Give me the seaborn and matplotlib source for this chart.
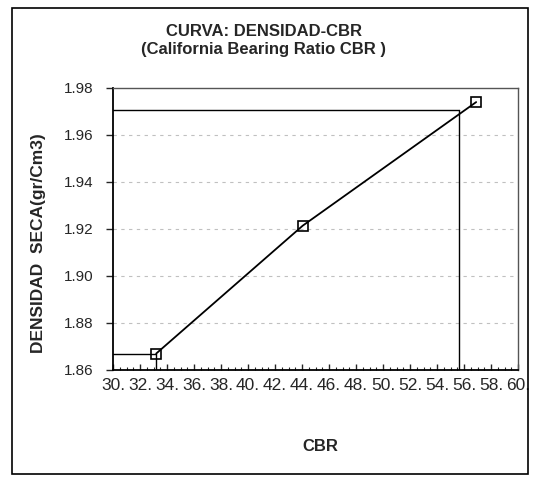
import matplotlib
matplotlib.use("Agg")
import matplotlib.pyplot as plt
import seaborn as sns
import pandas as pd
import numpy as np
from matplotlib.patches import Rectangle

# Data
cbr = [33.2, 44.05, 56.9]
densidad = [1.867, 1.9214, 1.974]
dens_max = 1.9706
cbr_at_max = 55.6
x_ticks = list(range(30, 61, 2))
x_tick_labels = [f"{v}." for v in x_ticks]
y_ticks = [1.86, 1.88, 1.90, 1.92, 1.94, 1.96, 1.98]

sns.set_style("white")
plt.rcParams['font.family'] = ['Liberation Sans', 'DejaVu Sans']

fig = plt.figure(figsize=(5.4, 4.8), dpi=100)
ax = fig.add_axes([0.2093, 0.2292, 0.75, 0.5875])

df = pd.DataFrame({"CBR": cbr, "DENS": densidad})

# gridlines
for yv in y_ticks[1:-1]:
    ax.axhline(yv, color="#c0c0c0", lw=0.8, ls=(0, (3, 4)), zorder=0)

sns.lineplot(data=df, x="CBR", y="DENS", ax=ax, color="black", lw=1.3,
             marker="s", markersize=7, markerfacecolor="none",
             markeredgecolor="black", markeredgewidth=1.2)

# reference lines
ax.plot([30, cbr_at_max], [dens_max, dens_max], color="black", lw=1.0)
ax.plot([cbr_at_max, cbr_at_max], [1.86, dens_max], color="black", lw=1.0)
ax.plot([30, cbr[0]], [densidad[0], densidad[0]], color="black", lw=1.0)
ax.plot([cbr[0], cbr[0]], [1.86, densidad[0]], color="black", lw=1.0)

ax.set_xlim(30, 60)
ax.set_ylim(1.86, 1.98)
ax.set_xticks(x_ticks)
ax.set_xticklabels(x_tick_labels, fontsize=12.5)
ax.set_xticks(np.arange(30, 60.01, 0.5), minor=True)
ax.set_yticks(y_ticks)
ax.set_yticklabels([f"{v:.2f}" for v in y_ticks], fontsize=11)
ax.tick_params(axis="x", which="major", direction="in", length=4, width=1, pad=6, bottom=True)
ax.tick_params(axis="x", which="minor", direction="in", length=2, width=0.8, bottom=True)
ax.tick_params(axis="y", which="major", direction="out", length=5, width=1, left=True, pad=9)

for s in ["left", "bottom"]:
    ax.spines[s].set_color("black")
    ax.spines[s].set_linewidth(1.3)
for s in ["top", "right"]:
    ax.spines[s].set_color("#555555")
    ax.spines[s].set_linewidth(1.0)
    ax.spines[s].set_linestyle((0, (4, 1)))

ax.set_xlabel("")
ax.set_ylabel("")
fig.text(0.072, 0.494, "DENSIDAD  SECA(gr/Cm3)", rotation=90, ha="center", va="center",
         fontsize=12.5, fontweight="bold")
fig.text(0.593, 0.069, "CBR", ha="center", va="center", fontsize=12, fontweight="bold")
fig.text(0.488, 0.934, "CURVA: DENSIDAD-CBR", ha="center", va="center", fontsize=12, fontweight="bold")
fig.text(0.488, 0.896, "(California Bearing Ratio CBR )", ha="center", va="center", fontsize=12, fontweight="bold")

# outer frame
fig.patches.append(Rectangle((0.022, 0.013), 0.956, 0.97, transform=fig.transFigure,
                             fill=False, edgecolor="black", lw=1.2))

fig.savefig("out.png", dpi=100)
